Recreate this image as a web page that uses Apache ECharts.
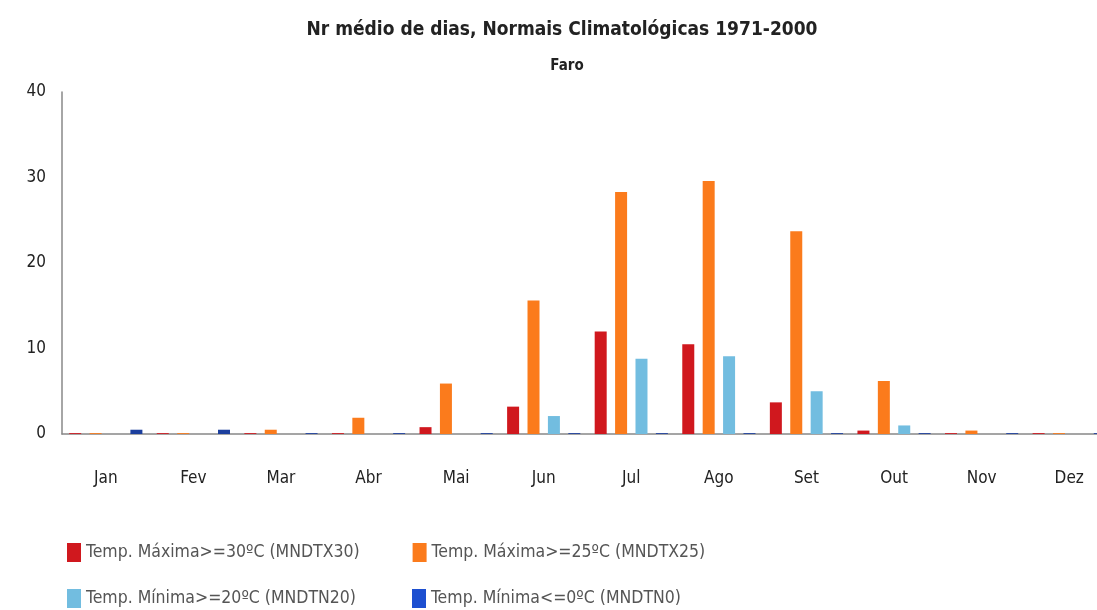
<!DOCTYPE html>
<html>
  <head>
    <meta charset="UTF-8">
    <title>Faro</title>
    <script src="https://cdn.jsdelivr.net/npm/echarts@6/dist/echarts.min.js"></script>
    <style>
      body { margin: 0; background: #fff; }
      #main { width: 1097px; height: 610px; }
    </style>
  </head>
  <body>
    <div id="main"></div>
    <script type="text/javascript">
      // dados (nº médio de dias)
      var meses = ['Jan', 'Fev', 'Mar', 'Abr', 'Mai', 'Jun', 'Jul', 'Ago', 'Set', 'Out', 'Nov', 'Dez'];
      var nomes = [
        'Temp. Máxima>=30ºC (MNDTX30)',
        'Temp. Máxima>=25ºC (MNDTX25)',
        'Temp. Mínima>=20ºC (MNDTN20)',
        'Temp. Mínima<=0ºC (MNDTN0)'
      ];
      var tx30 = [0.1, 0.1, 0.1, 0.1, 0.8, 3.2, 12.0, 10.5, 3.7, 0.4, 0.1, 0.1];
      var tx25 = [0.1, 0.1, 0.5, 1.9, 5.9, 15.6, 28.3, 29.6, 23.7, 6.2, 0.4, 0.1];
      var tn20 = [0, 0, 0, 0, 0, 2.1, 8.8, 9.1, 5.0, 1.0, 0, 0];
      var tn0 = [0.5, 0.5, 0.1, 0.1, 0.1, 0.1, 0.1, 0.1, 0.1, 0.1, 0.1, 0.1];
      var cores = ['#d0181e', '#fb7b1c', '#72bde0', '#1c3f9e'];

      var fonte = '"Liberation Sans Narrow", "DejaVu Sans Condensed", Arial, sans-serif';

      var chart = echarts.init(document.getElementById('main'));

      function serie(i, dados) {
        return {
          name: nomes[i],
          type: 'bar',
          data: dados,
          barWidth: 12,
          barGap: '70%',
          itemStyle: { color: cores[i] }
        };
      }

      chart.setOption({
        animation: false,
        textStyle: { fontFamily: fonte },
        title: [
          {
            text: 'Nr médio de dias, Normais Climatológicas 1971-2000',
            left: 557, top: 16, textAlign: 'center',
            textStyle: { fontFamily: fonte, fontSize: 19, fontWeight: 'bold', color: '#222' }
          },
          {
            text: 'Faro',
            left: 562, top: 54, textAlign: 'center',
            textStyle: { fontFamily: fonte, fontSize: 15, fontWeight: 'bold', color: '#222' }
          }
        ],
        legend: [
          {
            data: [
              { name: nomes[0], itemStyle: { color: '#d0181e' } },
              { name: nomes[1], itemStyle: { color: '#fb7b1c' } }
            ],
            left: 62, top: 538, itemWidth: 14, itemHeight: 19, itemGap: 53,
            icon: 'rect',
            textStyle: { fontFamily: fonte, fontSize: 17.5, color: '#555' }
          },
          {
            data: [
              { name: nomes[2], itemStyle: { color: '#72bde0' } },
              { name: nomes[3], itemStyle: { color: '#1d4fd0' } }
            ],
            left: 62, top: 584, itemWidth: 14, itemHeight: 19, itemGap: 56,
            icon: 'rect',
            textStyle: { fontFamily: fonte, fontSize: 17.5, color: '#555' }
          }
        ],
        grid: { left: 62, width: 1051, top: 92, bottom: 176, outerBoundsMode: 'none' },
        xAxis: {
          type: 'category',
          data: meses,
          axisLine: { lineStyle: { color: '#888', width: 1.5 } },
          axisTick: { show: false },
          axisLabel: { fontFamily: fonte, fontSize: 17, color: '#222', margin: 36 }
        },
        yAxis: {
          type: 'value',
          min: 0, max: 40, interval: 10,
          axisLine: { show: true, lineStyle: { color: '#888', width: 1.5 } },
          axisTick: { show: false },
          splitLine: { show: false },
          axisLabel: { fontFamily: fonte, fontSize: 17, color: '#222', margin: 16 }
        },
        series: [
          serie(0, tx30),
          serie(1, tx25),
          serie(2, tn20),
          serie(3, tn0)
        ]
      });
    </script>
  </body>
</html>
